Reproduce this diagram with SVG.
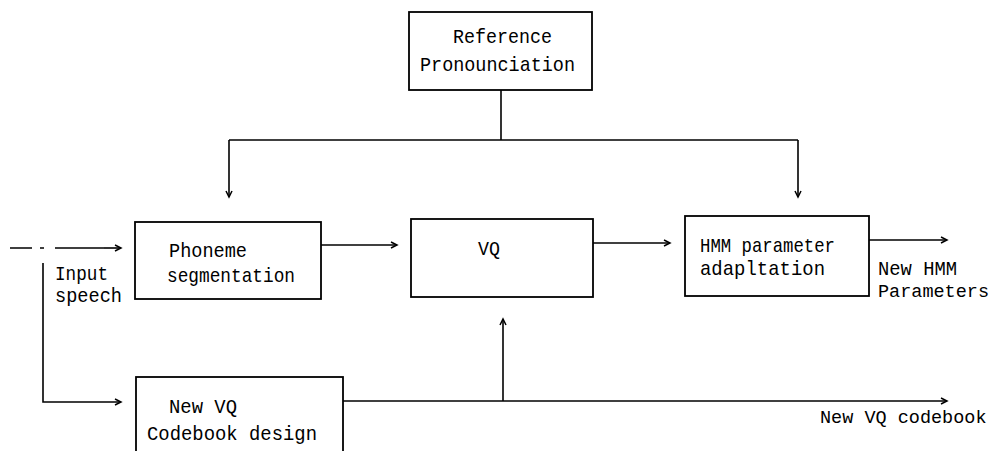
<svg xmlns="http://www.w3.org/2000/svg" width="998" height="451" viewBox="0 0 998 451">
<style>
.box{fill:#fff;stroke:#000;stroke-width:1.8}
.ln{fill:none;stroke:#000;stroke-width:1.6}
.ar{marker-end:url(#ah)}
text{font-family:"Liberation Mono","DejaVu Sans Mono",monospace;font-size:21px;fill:#000}
.sm{font-size:18.5px}
</style>
<defs>
<marker id="ah" markerWidth="10" markerHeight="10" refX="8" refY="4" orient="auto" markerUnits="userSpaceOnUse">
<path d="M2,1 L8,4 L2,7" fill="none" stroke="#000" stroke-width="1.5"/>
</marker>
</defs>
<g id="connectors">
<path class="ln" d="M501,90 V140"/>
<path class="ln" d="M229,140 H798"/>
<path class="ln ar" d="M229,140 V197"/>
<path class="ln ar" d="M798,140 V197"/>
<path class="ln" d="M10,248 H32 M40,248 H44 M55,248 H104"/>
<path class="ln ar" d="M104,248 H121"/>
<path class="ln ar" d="M321,245 H397"/>
<path class="ln ar" d="M593,243 H670"/>
<path class="ln ar" d="M869,240 H947"/>
<path class="ln ar" d="M43,263 V402 H121"/>
<path class="ln ar" d="M343,401 H947"/>
<path class="ln ar" d="M503,401 V319"/>
</g>
<g id="ref">
<rect class="box" x="409" y="12" width="183" height="78"/>
<text x="453" y="43" textLength="99" lengthAdjust="spacingAndGlyphs">Reference</text>
<text x="420" y="71" textLength="155" lengthAdjust="spacingAndGlyphs">Pronounciation</text>
</g>
<g id="phoneme">
<rect class="box" x="135" y="222" width="186" height="77"/>
<text x="169" y="257" textLength="78" lengthAdjust="spacingAndGlyphs">Phoneme</text>
<text x="167" y="282" textLength="128" lengthAdjust="spacingAndGlyphs">segmentation</text>
</g>
<g id="vq">
<rect class="box" x="411" y="219" width="182" height="78"/>
<text x="478" y="255" textLength="22" lengthAdjust="spacingAndGlyphs">VQ</text>
</g>
<g id="hmm">
<rect class="box" x="685" y="216" width="184" height="80"/>
<text x="700" y="252" textLength="135" lengthAdjust="spacingAndGlyphs">HMM parameter</text>
<text x="700" y="275" textLength="125" lengthAdjust="spacingAndGlyphs">adapltation</text>
</g>
<g id="newvq">
<rect class="box" x="136" y="377" width="207" height="80"/>
<text x="169" y="413" textLength="68" lengthAdjust="spacingAndGlyphs">New VQ</text>
<text x="147" y="440" textLength="170" lengthAdjust="spacingAndGlyphs">Codebook design</text>
</g>
<g id="labels">
<text x="55" y="280" textLength="53" lengthAdjust="spacingAndGlyphs">Input</text>
<text x="55" y="302" textLength="67" lengthAdjust="spacingAndGlyphs">speech</text>
<text x="878" y="275" textLength="79" lengthAdjust="spacingAndGlyphs">New HMM</text>
<text class="sm" x="878" y="297">Parameters</text>
<text class="sm" x="820" y="423">New VQ codebook</text>
</g>
</svg>
